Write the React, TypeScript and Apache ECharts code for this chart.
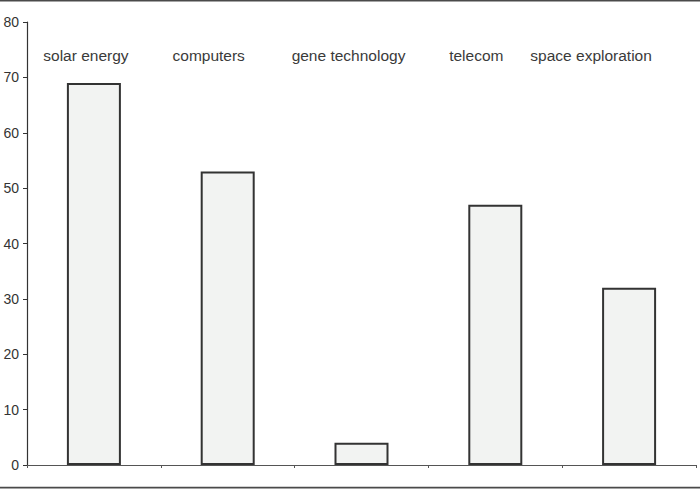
import React, { useEffect, useRef } from "react";
import * as echarts from "echarts";

const categories = ["solar energy", "computers", "gene technology", "telecom", "space exploration"];
const values = [69, 53, 4, 47, 32];
const yTicks = { min: 0, max: 80, interval: 10 };
// per-label horizontal nudges (right padding) so labels sit as in the reference
const labelPad = [16, 38, 26, 38, 76];

export default function App() {
  const ref = useRef<HTMLDivElement>(null);
  useEffect(() => {
    document.body.style.margin = "0";
    const chart = echarts.init(ref.current!, null, { renderer: "svg" });
    const rich: Record<string, any> = {};
    labelPad.forEach((p, i) => {
      rich["l" + i] = {
        fontSize: 15.5,
        color: "#3a3a3a",
        fontFamily: "Liberation Sans, Arial, sans-serif",
        padding: [0, p, 0, 0],
      };
    });
    chart.setOption({
      animation: false,
      textStyle: { fontFamily: "Liberation Sans, Arial, sans-serif" },
      grid: { left: 27, right: 4, top: 22, bottom: 24, containLabel: false },
      graphic: [
        { type: "line", shape: { x1: 0, y1: 0.8, x2: 700, y2: 0.8 }, style: { stroke: "#4a4a4a", lineWidth: 1.6 } },
        { type: "line", shape: { x1: 0, y1: 487.6, x2: 700, y2: 487.6 }, style: { stroke: "#4a4a4a", lineWidth: 1.6 } },
      ],
      xAxis: [
        {
          type: "category",
          data: categories,
          position: "bottom",
          axisLine: { lineStyle: { color: "#555", width: 1.2 } },
          axisTick: { show: true, length: 3, lineStyle: { color: "#555" } },
          axisLabel: { show: false },
        },
        {
          type: "category",
          data: categories,
          position: "top",
          axisLine: { show: false },
          axisTick: { show: false },
          axisLabel: {
            show: true,
            inside: true,
            margin: 25,
            interval: 0,
            formatter: (v: string, i: number) => `{l${i}|${v}}`,
            rich,
          },
        },
      ],
      yAxis: {
        type: "value",
        min: yTicks.min,
        max: yTicks.max,
        interval: yTicks.interval,
        splitLine: { show: false },
        axisLine: { show: true, lineStyle: { color: "#333", width: 1.2 } },
        axisTick: { show: true, length: 4, lineStyle: { color: "#333" } },
        axisLabel: { color: "#333", fontSize: 14, margin: 8 },
      },
      series: [
        {
          type: "bar",
          data: values,
          barWidth: 54,
          itemStyle: { color: "#f2f3f2", borderColor: "#333", borderWidth: 2 },
        },
      ],
    });
    return () => chart.dispose();
  }, []);
  return <div ref={ref} style={{ width: 700, height: 489 }} />;
}
